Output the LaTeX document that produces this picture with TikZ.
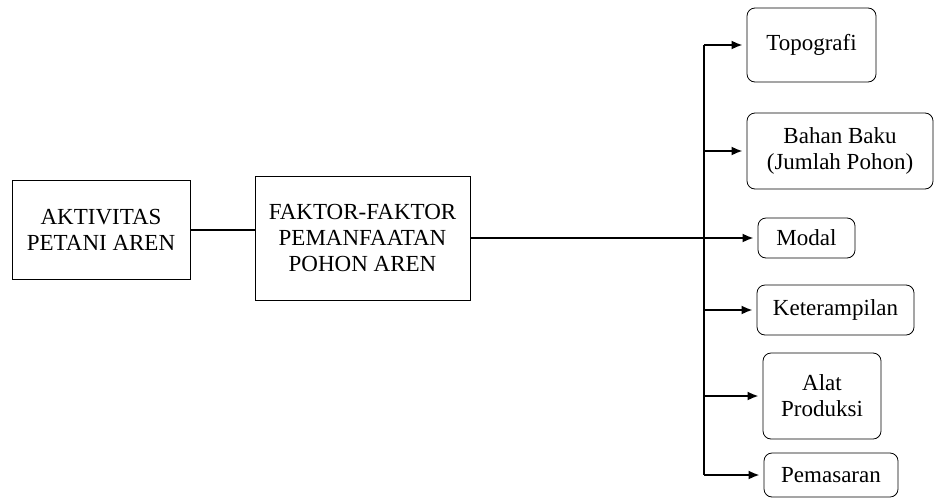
\documentclass[tikz,border=0pt]{standalone}
\usepackage{fontspec}
\setmainfont{Liberation Serif}
\usepackage{tikz}
\usetikzlibrary{arrows.meta,positioning}

\begin{document}
\begin{tikzpicture}[x=0.5pt,y=-0.5pt,>={Latex[length=5.5pt,width=4.5pt]},semithick,
font=\fontsize{11.5}{13}\selectfont]

\tikzstyle{box}=[draw,thin,align=center,inner sep=2pt]
\tikzstyle{item}=[box,rounded corners=4pt]
\tikzstyle{link}=[line width=1pt]

\useasboundingbox (0,0) rectangle (935,498);

\node[box, minimum width=89pt, minimum height=49.5pt]   (A) at (101,229.5) {AKTIVITAS\\PETANI AREN};
\node[box, minimum width=107.5pt, minimum height=62pt]  (F) at (362.5,238)  {FAKTOR-FAKTOR\\PEMANFAATAN\\POHON AREN};

\node[item, minimum width=64.5pt, minimum height=37pt] (Topo)   at (811.5,45)  {Topografi};
\node[item, minimum width=93pt,   minimum height=38pt] (Bahan)  at (840,151)   {Bahan Baku\\(Jumlah Pohon)};
\node[item, minimum width=48.5pt, minimum height=20pt] (Modal)  at (806.5,238) {Modal};
\node[item, minimum width=78.5pt, minimum height=25pt] (Ketr)   at (835.5,310) {Keterampilan};
\node[item, minimum width=59pt,   minimum height=43pt] (Alat)   at (822,396)   {Alat\\Produksi};
\node[item, minimum width=67pt,   minimum height=22pt] (Pemas)  at (831,475)   {Pemasaran};

\coordinate (trunk) at (704,0);

\draw[link] (A.east) -- (A.east -| F.west);
\draw[link] (F.east) -- (F.east -| trunk);
\draw[link] (trunk |- Topo.west) -- (trunk |- Pemas.west);

\path[link,->,shorten >=2pt]
      (trunk |- Topo.west)  edge (Topo.west)
      (trunk |- Bahan.west) edge (Bahan.west)
      (trunk |- Modal.west) edge (Modal.west)
      (trunk |- Ketr.west)  edge (Ketr.west)
      (trunk |- Alat.west)  edge (Alat.west)
      (trunk |- Pemas.west) edge (Pemas.west);
\end{tikzpicture}
\end{document}
